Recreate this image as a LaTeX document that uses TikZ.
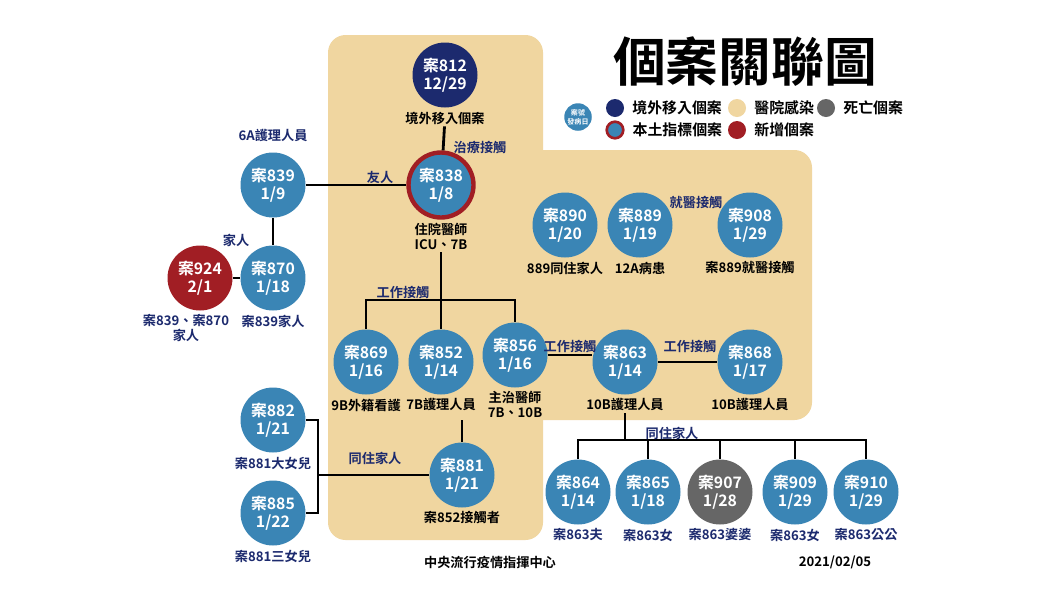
\documentclass[tikz,border=0pt]{standalone}
\usepackage{fontspec}
\setmainfont{Noto Sans CJK TC}[BoldFont={* Bold}]
\usepackage{tikz}
\usetikzlibrary{positioning}
\definecolor{navy}{HTML}{1C2A6E}
\definecolor{caseblue}{HTML}{3A85B5}
\definecolor{newred}{HTML}{A11E24}
\definecolor{beige}{HTML}{F0D6A0}
\definecolor{deadgrey}{HTML}{666666}
\begin{document}
\begin{tikzpicture}[x=0.02cm, y=-0.02cm, font=\bfseries]
  \tikzstyle{case} = [circle, fill=caseblue, text=white, minimum size=1.3cm, inner sep=0pt, align=center, font=\bfseries\fontsize{9}{10}\selectfont];
  \tikzstyle{local} = [case, draw=newred, line width=2.5pt];
  \tikzstyle{note} = [align=center, font=\bfseries\fontsize{7.5}{8.5}\selectfont, text=black, inner sep=1pt];
  \tikzstyle{rel} = [font=\bfseries\fontsize{7.5}{8.5}\selectfont, text=navy];
  \tikzstyle{key} = [right=1pt of #1, font=\bfseries\fontsize{8.5}{9}\selectfont];
  \tikzstyle{link} = [line width=1.6pt];
  \useasboundingbox (0,0) rectangle (1060,596);
  \fill[white] (0,0) rectangle (1060,596);
  % hospital area
  \fill[beige, rounded corners=10pt] (328,35) rectangle (543,540);
  \fill[beige, rounded corners=10pt] (460,150) rectangle (812,420);
  \node[font=\bfseries\fontsize{30}{32}\selectfont] (title) at (745,62) {個案關聯圖};
  % legend
  \node[circle, fill=caseblue, text=white, minimum size=0.55cm, inner sep=0pt, align=center, font=\bfseries\fontsize{4}{5}\selectfont] (k0) at (578,117) {案號\\發病日};
  \node[circle, fill=navy, minimum size=0.36cm] (k1) at (615,108) {};
  \node[key=k1] {境外移入個案};
  \node[circle, fill=beige, minimum size=0.36cm] (k2) at (737,108) {};
  \node[key=k2] {醫院感染};
  \node[circle, fill=deadgrey, minimum size=0.36cm] (k3) at (826,108) {};
  \node[key=k3] {死亡個案};
  \node[circle, fill=caseblue, draw=newred, line width=1.5pt, minimum size=0.3cm] (k4) at (615,130) {};
  \node[key=k4] {本土指標個案};
  \node[circle, fill=newred, minimum size=0.36cm] (k5) at (737,130) {};
  \node[key=k5] {新增個案};

  % cases
  \node[case, fill=navy] (c812) at (445,75) {案812\\12/29};
  \node[local] (c838) at (441,185) {案838\\1/8};
  \node[case] (c839) at (273,185) {案839\\1/9};
  \node[case] (c870) at (273,278) {案870\\1/18};
  \node[case, fill=newred] (c924) at (200,278) {案924\\2/1};
  \node[case] (c890) at (565,225) {案890\\1/20};
  \node[case] (c889) at (640,225) {案889\\1/19};
  \node[case] (c908) at (750,225) {案908\\1/29};
  \node[case] (c869) at (366,362) {案869\\1/16};
  \node[case] (c852) at (441,362) {案852\\1/14};
  \node[case] (c856) at (515,355) {案856\\1/16};
  \node[case] (c863) at (625,362) {案863\\1/14};
  \node[case] (c868) at (750,362) {案868\\1/17};
  \node[case] (c882) at (273,420) {案882\\1/21};
  \node[case] (c885) at (273,513) {案885\\1/22};
  \node[case] (c881) at (462,475) {案881\\1/21};
  \node[case] (c864) at (578,492) {案864\\1/14};
  \node[case] (c865) at (648,492) {案865\\1/18};
  \node[case, fill=deadgrey] (c907) at (720,492) {案907\\1/28};
  \node[case] (c909) at (795,492) {案909\\1/29};
  \node[case] (c910) at (866,492) {案910\\1/29};

  % notes under cases
  \node[note, below=1pt of c812] (n812) {境外移入個案};
  \node[note, below=1pt of c838] (n838) {住院醫師\\ICU、7B};
  \node[note, text=navy, above=5pt of c839] {6A護理人員};
  \node[note, text=navy, below=1pt of c870] {案839家人};
  \node[note, text=navy, below=1pt of c924, xshift=-8pt] {案839、案870\\家人};
  \node[note, below=1pt of c890] {889同住家人};
  \node[note, below=1pt of c889] {12A病患};
  \node[note, below=1pt of c908] {案889就醫接觸};
  \node[note, below=1pt of c869] {9B外籍看護};
  \node[note, below=1pt of c852] {7B護理人員};
  \node[note, below=1pt of c856] (n856) {主治醫師\\7B、10B};
  \node[note, below=1pt of c863] (n863) {10B護理人員};
  \node[note, below=1pt of c868] {10B護理人員};
  \node[note, text=navy, below=1pt of c882] {案881大女兒};
  \node[note, text=navy, below=1pt of c885] {案881三女兒};
  \node[note, below=1pt of c881] {案852接觸者};
  \node[note, text=navy, below=1pt of c864] {案863夫};
  \node[note, text=navy, below=1pt of c865] {案863女};
  \node[note, text=navy, below=1pt of c907] {案863婆婆};
  \node[note, text=navy, below=1pt of c909] {案863女};
  \node[note, text=navy, below=1pt of c910] {案863公公};

  % junctions
  \coordinate (work) at (441,300);
  \coordinate (home) at (625,440);
  \coordinate (fam) at (318,475);

  \draw[link] (n812) -- (c838);
  \draw[link] (c839) -- (c838);
  \draw[link] (c839) -- (c870);
  \draw[link] (c924) -- (c870);
  \draw[link] (n838) -- (work);
  \draw[link] (c869) |- (work) -| (c856);
  \draw[link] (work) -- (c852);
  \draw[link] (c856) -- (c856 -| c863.west);
  \draw[link] (c863) -- (c868);
  \draw[link] (n863) -- (home);
  \draw[link] (c864) |- (home) -| (c910);
  \draw[link] (c865 |- home) -- (c865);
  \draw[link] (c907 |- home) -- (c907);
  \draw[link] (c909 |- home) -- (c909);
  \draw[link] (n856.south -| c881) -- (c881);
  \draw[link] (c881) -- (fam);
  \draw[link] (c882) -| (fam) |- (c885);

  % relation labels
  \node[rel] at (480,147) {治療接觸};
  \node[rel] at (380,177) {友人};
  \node[rel] at (236,240) {家人};
  \node[rel] at (403,292) {工作接觸};
  \node[rel] at (570,346) {工作接觸};
  \node[rel] at (690,346) {工作接觸};
  \node[rel] at (696,202) {就醫接觸};
  \node[rel] at (672,433) {同住家人};
  \node[rel] at (375,458) {同住家人};

  \node[font=\bfseries\fontsize{7.5}{8}\selectfont] (agency) at (490,562) {中央流行疫情指揮中心};
  \node[font=\bfseries\fontsize{7.5}{8}\selectfont] (date) at (835,562) {2021/02/05};
\end{tikzpicture}
\end{document}
